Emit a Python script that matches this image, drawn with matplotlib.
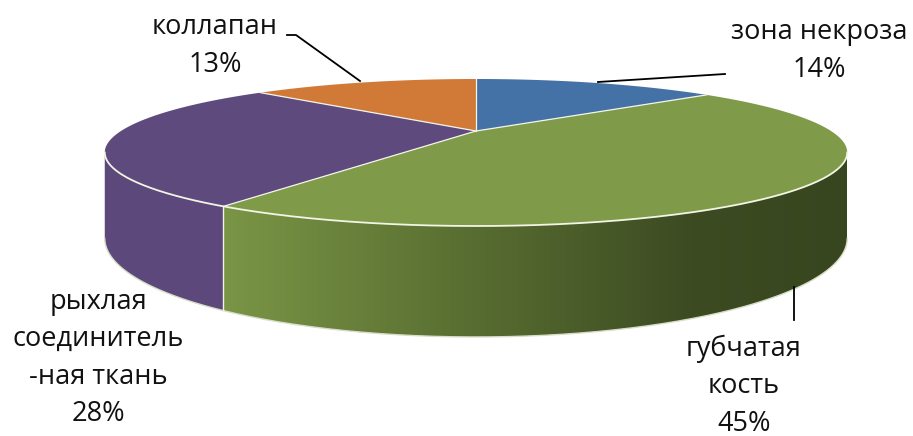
import numpy as np
import matplotlib
matplotlib.use('Agg')
import matplotlib.pyplot as plt
from matplotlib.patches import Polygon, PathPatch
from matplotlib.path import Path
from matplotlib.colors import LinearSegmentedColormap

plt.rcParams['font.family'] = ['Open Sans', 'DejaVu Sans']

names = ['зона некроза', 'губчатая\nкость', 'рыхлая\nсоединитель\n-ная ткань', 'коллапан']
shares = [14, 45, 28, 13]
top_colors = ['#4572A6', '#7F9B49', '#5F4A7E', '#D17A38']
wall_colors = ['#3B6192', None, '#5C487B', '#B8682D']

# label block centres and leader lines (pixel space)
label_pos = [(819, 51), (744, 386), (98, 358), (215, 46)]
leaders = [[(598, 82), (725, 74)],
           [(794, 287), (794, 320)],
           None,
           [(360, 81), (296, 35), (287, 35)]]

# perspective of the tilted disc, in pixels
CX, APEX_Y, R, A, C, T = 476, 131, 355, 28.9, -0.2925, 78.5


def project(theta, drop=0.0):
    u = np.sin(theta)
    v = -np.cos(theta)
    w = 1 + C * v
    return CX + R * u / w, (APEX_Y + A * v + drop) / w


fig = plt.figure(figsize=(9.13, 4.36), dpi=100)
ax = fig.add_axes([0, 0, 1, 1])
ax.set_xlim(0, 913)
ax.set_ylim(436, 0)
ax.axis('off')

bounds = np.concatenate([[0], np.cumsum(shares)]) / np.sum(shares) * 2 * np.pi
lo = np.arccos(C)          # wall visible between the tangent points
hi = 2 * np.pi - lo

green_cmap = LinearSegmentedColormap.from_list(
    'wall', [(0, '#7A9546'), (0.35, '#5C7233'), (0.75, '#3C4B22'), (1, '#38461F')])

# side walls
for i in range(len(shares)):
    t0, t1 = max(bounds[i], lo), min(bounds[i + 1], hi)
    if t1 <= t0:
        continue
    th = np.linspace(t0, t1, 200)
    xt, yt = project(th)
    xb, yb = project(th, T)
    pts = np.column_stack([np.concatenate([xt, xb[::-1]]), np.concatenate([yt, yb[::-1]])])
    if wall_colors[i] is None:
        patch = PathPatch(Path(pts), facecolor='none', edgecolor='none')
        ax.add_patch(patch)
        x0, x1 = pts[:, 0].min(), pts[:, 0].max()
        y0, y1 = pts[:, 1].min(), pts[:, 1].max()
        grad = np.linspace(0, 1, 256)[None, :]
        im = ax.imshow(grad, cmap=green_cmap, extent=[x0, x1, y1, y0], aspect='auto', zorder=1)
        im.set_clip_path(patch)
    else:
        ax.add_patch(Polygon(pts, closed=True, facecolor=wall_colors[i], edgecolor='none', zorder=1))
    # bottom rim highlight
    ax.plot(xb, yb, color='#D8DCC8', lw=1.0, zorder=2)
    # vertical seam between walls
    if bounds[i] > lo and bounds[i] < hi:
        sx, sy = project(bounds[i])
        bx, by = project(bounds[i], T)
        ax.plot([sx, bx], [sy, by], color='#F2F2E6', lw=1.0, zorder=3)

# top surface
for i in range(len(shares)):
    th = np.linspace(bounds[i], bounds[i + 1], 200)
    xs, ys = project(th)
    pts = np.column_stack([np.concatenate([[CX], xs]), np.concatenate([[APEX_Y], ys])])
    ax.add_patch(Polygon(pts, closed=True, facecolor=top_colors[i], edgecolor='none', zorder=4))

for b in bounds[:-1]:
    bx, by = project(b)
    ax.plot([CX, bx], [APEX_Y, by], color='#F4F4EC', lw=0.9, zorder=5)

th = np.linspace(lo, hi, 300)
rx, ry = project(th)
ax.plot(rx, ry, color='#F2F4E4', lw=1.3, zorder=5)

# labels
for i in range(len(shares)):
    x, y = label_pos[i]
    ax.text(x, y, f'{names[i]}\n{shares[i]}%', ha='center', va='center',
            fontsize=19.5, color='#111111', linespacing=1.45, zorder=6)
    if leaders[i] is not None:
        lx, ly = zip(*leaders[i])
        ax.plot(lx, ly, color='black', lw=1.3, zorder=6)

fig.savefig('out.png', dpi=100)
